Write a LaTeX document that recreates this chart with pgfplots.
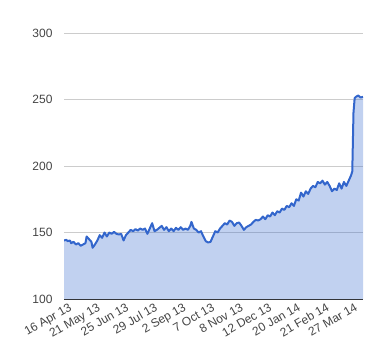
\documentclass[border=0pt]{standalone}
\usepackage{pgfplots}
\usepackage{pgfplotstable}
\pgfplotsset{compat=1.18}
\usepackage{fontspec}
\setmainfont{Liberation Sans}
\definecolor{gline}{HTML}{3366CC}
\definecolor{tlab}{HTML}{444444}
\pgfplotstableread{
x y
0 144
2 144.5
3 143.5
5 144
6 142
8 143
10 141
12 142
14 140
16 141
18 142
19 147
21 145
23 143
24 138.5
26 141
28 144
30 148
32 146
34 150
36 147
38 150
40 149
42 150.5
44 149
46 148.5
48 149
50 144
52 148
54 150
56 152
58 151
60 152.5
62 151.5
64 153
66 152
68 153
70 149
72 153
74 157
76 151
78 152
80 153.5
82 155
84 152
86 154
88 151
90 153
92 151
94 153.5
96 152
98 154
100 152
102 153
104 152
106 155
107 158
109 153
111 152
113 150
115 151
117 147
119 143.5
121 142.5
123 143
125 147
127 151
129 150
131 153
133 155
135 157
137 156
139 159
141 158
143 155
145 157
147 157.5
149 155
151 152
153 154
155 155
157 156
159 158
161 159.5
163 159
165 160
167 162
169 160
171 163
173 162
175 165
177 163
179 166
181 165
183 168
185 167
187 170
189 169
191 172
193 170
195 175
197 174
199 180
201 177
203 181
205 179
207 183
209 185
211 184
213 188
215 187
217 189
219 186
221 188
223 185
225 181
227 183
229 182
231 187
233 183
235 188
237 185
239 189
241 193
242 196
243 240
244 251
245 252
247 253
249 251.5
251 252
}\datatable
\begin{document}
\begin{tikzpicture}[x=1pt,y=1pt]
\useasboundingbox (-64,-61) rectangle (316,299);
\begin{axis}[
  at={(0,0)}, anchor=south west,
  scale only axis, width=299pt, height=266pt,
  xmin=0, xmax=251, ymin=100, ymax=300,
  ytick={100,150,200,250,300},
  xtick={0,24,48,72,96,120,144,168,192,216,240},
  xticklabels={16 Apr 13,21 May 13,25 Jun 13,29 Jul 13,2 Sep 13,7 Oct 13,8 Nov 13,12 Dec 13,20 Jan 14,21 Feb 14,27 Mar 14},
  ymajorgrids, grid style={draw=black!20, line width=0.8pt},
  axis x line*=bottom, axis y line*=left,
  y axis line style={draw=none},
  x axis line style={draw=black!80, line width=1pt},
  major tick length=0pt, tick style={draw=none},
  xticklabel style={rotate=30, anchor=north east, font=\fontsize{12}{14}\selectfont, text=tlab, inner sep=1pt, xshift=3pt, yshift=-4pt},
  yticklabel style={font=\fontsize{12}{14}\selectfont, text=tlab, xshift=-8pt},
  /pgf/number format/assume math mode=true,
]
\addplot[draw=none, fill=gline, fill opacity=0.3] table[x=x,y=y] {\datatable} \closedcycle;
\addplot[gline, line width=2pt, line join=round] table[x=x,y=y] {\datatable};
\end{axis}
\end{tikzpicture}
\end{document}
